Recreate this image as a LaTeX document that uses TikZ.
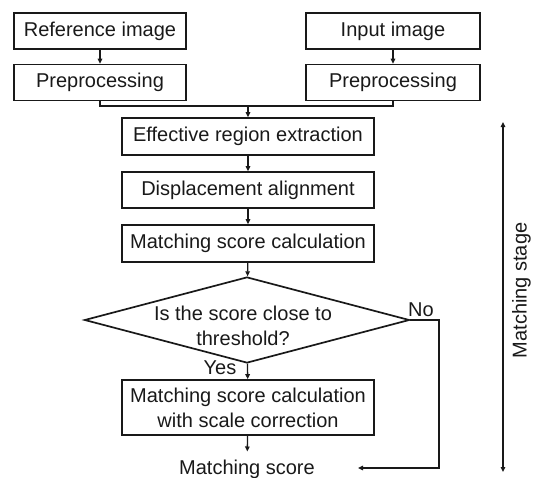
\documentclass[tikz,border=0pt]{standalone}
\usepackage{fontspec}
\setmainfont{Liberation Sans}
\usetikzlibrary{shapes.geometric,arrows.meta,calc}
\begin{document}
\begin{tikzpicture}[x=1pt,y=-1pt,
  font=\fontsize{20}{25}\selectfont,
  every node/.style={text=black!90},
  box/.style={draw=black!90, line width=1.7pt, inner sep=0pt, align=center},
  smallbox/.style={box, minimum width=172pt, minimum height=36pt},
  bigbox/.style={box, minimum width=252pt, minimum height=37pt},
  tip/.style={-{Triangle[length=5pt,width=4.5pt]}},
  conn/.style={draw=black!90, line width=1.3pt, tip},
  plain/.style={draw=black!90, line width=1.6pt},
  lbl/.style={inner sep=0pt}]
\useasboundingbox (0,0) rectangle (533,477);

% top boxes
\node[smallbox] (ref)  at (100,31)   {Reference image};
\node[smallbox] (pre1) at (100,82.5) {Preprocessing};
\node[smallbox, minimum width=174pt] (inp)  at (393,31)   {Input image};
\node[smallbox, minimum width=174pt] (pre2) at (393,82.5) {Preprocessing};

% central chain
\coordinate (join) at (248,106);
\node[bigbox] (eff)  at (248,136.5) {Effective region extraction};
\node[bigbox, minimum height=36pt] (disp) at (248,190) {Displacement alignment};
\node[bigbox] (msc)  at (248,243.5) {Matching score calculation};
\node[draw=black!90, line width=1.7pt, shape=diamond, inner sep=0pt,
      minimum width=325pt, minimum height=86pt] (dia) at (247,320) {};
\node[lbl, align=center] (q) at (243,326) {Is the score close to\\threshold?};
\node[bigbox, minimum height=55pt] (scale) at (248,407.5)
  {Matching score calculation\\with scale correction};
\node[lbl] (out) at (247,469) {Matching score};

% labels
\node[lbl] (yes) at (220,368) {Yes};
\node[lbl] (no)  at (421,310) {No};

% connectors
\draw[conn] (ref) -- (pre1);
\draw[conn] (inp) -- (pre2);
\draw[plain] (pre1.south) |- (join) -| (pre2.south);
\draw[conn] (join) -- (eff);
\draw[conn] (eff) -- (disp);
\draw[conn] (disp) -- (msc);
\draw[conn] (msc) -- (dia);
\draw[conn] (dia) -- (scale);
\draw[conn, shorten >=8pt] (scale) -- (out);
\coordinate (noc) at (439,468);
\coordinate (notip) at (358,468);
\draw[conn] (dia.east) -| (noc) -- (notip);

% matching stage
\coordinate (st1) at (503,122);
\coordinate (st2) at (503,472);
\draw[draw=black!90, line width=1.3pt, {Triangle[length=5pt,width=4.5pt]}-{Triangle[length=5pt,width=4.5pt]}] (st1) -- (st2);
\node[lbl, rotate=90] (stage) at (521.5,290.5) {Matching stage};
\end{tikzpicture}
\end{document}
